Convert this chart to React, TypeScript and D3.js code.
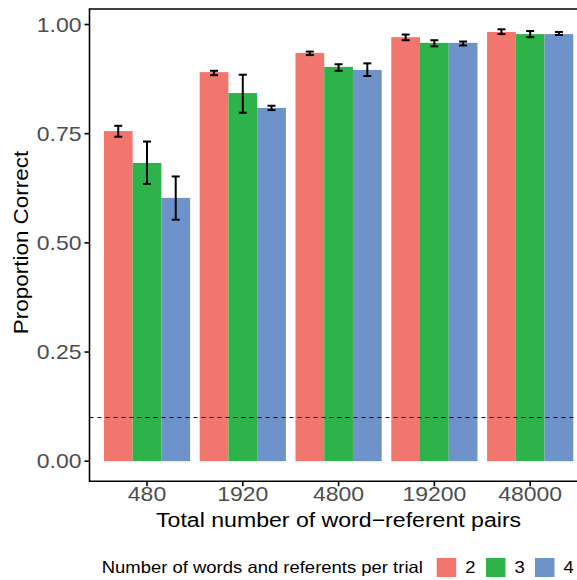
import React from "react";
import * as d3 from "d3";

const categories = ["480", "1920", "4800", "19200", "48000"];
const groups = ["2", "3", "4"];
const means2 = [0.756, 0.891, 0.935, 0.971, 0.983];
const means3 = [0.683, 0.843, 0.903, 0.958, 0.978];
const means4 = [0.603, 0.809, 0.896, 0.958, 0.978];
const lo2 = [0.743, 0.884, 0.930, 0.964, 0.978];
const hi2 = [0.768, 0.894, 0.938, 0.977, 0.989];
const lo3 = [0.635, 0.798, 0.894, 0.950, 0.971];
const hi3 = [0.732, 0.885, 0.909, 0.964, 0.985];
const lo4 = [0.553, 0.804, 0.882, 0.952, 0.976];
const hi4 = [0.652, 0.814, 0.911, 0.961, 0.983];
const yTicks = [0, 0.25, 0.5, 0.75, 1.0];
const chanceLevel = 0.1;
const colors = ["#F3766E", "#2EB24A", "#6E93CB"];

const W = 577;
const H = 580;
const FONT = "'Liberation Sans', Arial, Helvetica, sans-serif";

function ST(props: {
  x: number;
  y: number;
  sx: number;
  rotate?: number;
  size: number;
  anchor?: string;
  fill?: string;
  dy?: string;
  children: React.ReactNode;
}) {
  const { x, y, sx, rotate = 0, size, anchor = "start", fill = "#000", dy, children } = props;
  return (
    <text
      transform={`translate(${x},${y}) rotate(${rotate}) scale(${sx},1)`}
      textAnchor={anchor}
      fontSize={size}
      fill={fill}
      dy={dy}
    >
      {children}
    </text>
  );
}

export default function App() {
  const left = 89.5;
  const step = 95.8;
  const right = left + step * 5.2;
  const xc = (c: string) => left + step * (0.6 + categories.indexOf(c));
  const y = d3.scaleLinear().domain([0, 1]).range([461.2, 24.5]);
  const panelTop = y(1.0355);
  const panelBottom = y(-0.046);
  const dodge = step * 0.9;
  const xg = d3.scaleBand<string>().domain(groups).range([-dodge / 2, dodge / 2]);
  const bw = xg.bandwidth();
  const means = [means2, means3, means4];
  const lows = [lo2, lo3, lo4];
  const highs = [hi2, hi3, hi4];
  const capW = 8;

  return (
    <svg width={W} height={H} style={{ position: "absolute", left: 0, top: 0, background: "#fff" }} fontFamily={FONT}>
      <rect x={0} y={0} width={W} height={H} fill="#fff" />
      {groups.map((g, gi) =>
        categories.map((c, ci) => (
          <rect
            key={`b-${g}-${c}`}
            x={xc(c) + (xg(g) as number)}
            y={y(means[gi][ci])}
            width={bw}
            height={y(0) - y(means[gi][ci])}
            fill={colors[gi]}
          />
        ))
      )}
      {groups.map((g, gi) =>
        categories.map((c, ci) => {
          const cx = xc(c) + (xg(g) as number) + bw / 2;
          return (
            <g key={`e-${g}-${c}`} stroke="#000" strokeWidth={2}>
              <line x1={cx} x2={cx} y1={y(lows[gi][ci])} y2={y(highs[gi][ci])} />
              <line x1={cx - capW / 2} x2={cx + capW / 2} y1={y(lows[gi][ci])} y2={y(lows[gi][ci])} />
              <line x1={cx - capW / 2} x2={cx + capW / 2} y1={y(highs[gi][ci])} y2={y(highs[gi][ci])} />
            </g>
          );
        })
      )}
      <line x1={left} x2={right} y1={y(chanceLevel)} y2={y(chanceLevel)} stroke="#000" strokeWidth={1} strokeDasharray="4,4" />
      <line x1={left} x2={right} y1={panelTop} y2={panelTop} stroke="#000" strokeWidth={1.6} />
      <line x1={left} x2={left} y1={panelTop - 0.8} y2={panelBottom + 0.8} stroke="#000" strokeWidth={1.6} />
      <line x1={left} x2={right} y1={panelBottom} y2={panelBottom} stroke="#000" strokeWidth={1.6} />
      {yTicks.map((t) => (
        <g key={`yt-${t}`}>
          <line x1={left - 5} x2={left} y1={y(t)} y2={y(t)} stroke="#000" strokeWidth={1.6} />
          <ST x={left - 8} y={y(t)} dy="0.36em" sx={1.15} anchor="end" size={20} fill="#4D4D4D">
            {d3.format(".2f")(t)}
          </ST>
        </g>
      ))}
      {categories.map((c) => (
        <g key={`xt-${c}`}>
          <line x1={xc(c)} x2={xc(c)} y1={panelBottom} y2={panelBottom + 5} stroke="#000" strokeWidth={1.6} />
          <ST x={xc(c)} y={500.7} sx={1.15} anchor="middle" size={20} fill="#4D4D4D">
            {c}
          </ST>
        </g>
      ))}
      <ST x={(left + right) / 2} y={526.7} sx={1.1} anchor="middle" size={21}>
        Total number of word−referent pairs
      </ST>
      <ST x={28.3} y={242.5} rotate={-90} sx={1.07} anchor="middle" size={21}>
        Proportion Correct
      </ST>
      <ST x={101.7} y={573.3} sx={1.12} size={16.5}>
        Number of words and referents per trial
      </ST>
      {groups.map((g, gi) => {
        const kx = [436.7, 486, 535][gi];
        return (
          <g key={`lg-${g}`}>
            <rect x={kx} y={558} width={19.5} height={19} fill={colors[gi]} />
            <ST x={kx + 28.5} y={573.3} sx={1.12} size={16.5}>
              {g}
            </ST>
          </g>
        );
      })}
    </svg>
  );
}
